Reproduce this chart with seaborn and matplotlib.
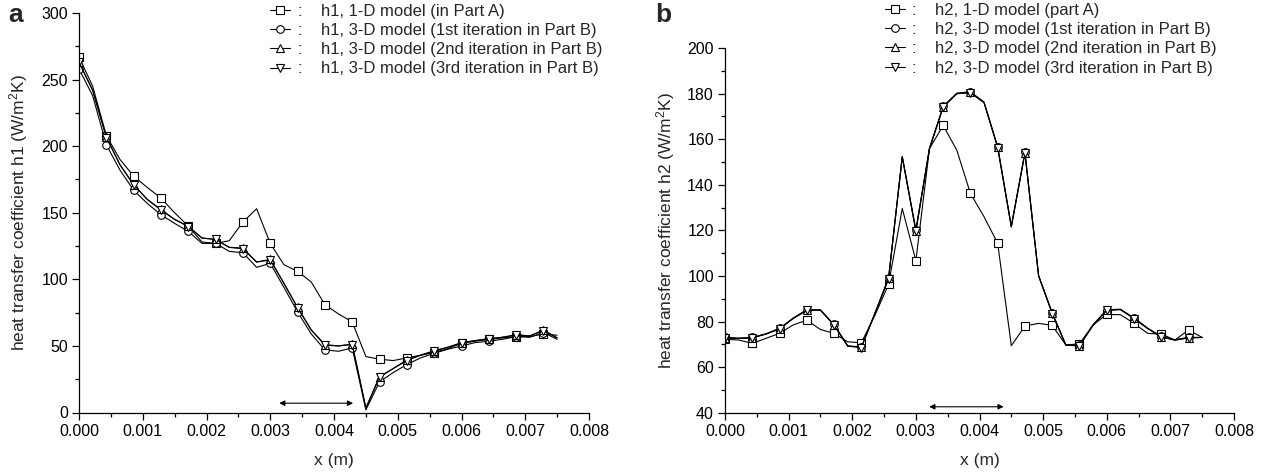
import numpy as np
import pandas as pd
import matplotlib
matplotlib.use('Agg')
import matplotlib.pyplot as plt
import seaborn as sns
from matplotlib.ticker import MultipleLocator, FormatStrFormatter

sns.set_style('ticks')
plt.rcParams['font.family'] = ['Liberation Sans', 'DejaVu Sans']
plt.rcParams['mathtext.fontset'] = 'custom'
plt.rcParams['mathtext.rm'] = 'Liberation Sans'
plt.rcParams['mathtext.it'] = 'Liberation Sans:italic'

# ---------------- data ----------------
x_m = [0.0, 0.000214, 0.000429, 0.000643, 0.000857, 0.001071, 0.001286, 0.0015,
       0.001714, 0.001929, 0.002143, 0.002357, 0.002571, 0.002786, 0.003, 0.003214,
       0.003429, 0.003643, 0.003857, 0.004071, 0.004286, 0.0045, 0.004714, 0.004929,
       0.005143, 0.005357, 0.005571, 0.005786, 0.006, 0.006214, 0.006429, 0.006643,
       0.006857, 0.007071, 0.007286, 0.0075]

h1_1d = [267, 245, 208, 190, 177.5, 169, 161, 150, 140, 128, 127, 129, 143, 153, 127, 111,
         106, 98, 81, 74, 68, 42, 40, 39, 41, 43, 45, 48, 52, 53.5, 55, 56, 57, 57, 59, 58]
h1_3d_it1 = [258, 238, 201, 182, 167, 157, 148.5, 142, 136, 127, 127, 121, 120, 109, 112, 94,
             75.5, 59, 47, 46, 48.5, 2, 23, 30, 36, 41, 44.5, 47.5, 50, 52.5, 53.5, 55, 57, 56.5, 60, 55]
h1_3d_it2 = [263, 242, 207, 186, 171, 160, 152.5, 145, 140, 131, 130, 124, 123.5, 113, 115, 97,
             79, 62, 51, 50, 51.5, 3.5, 27, 33, 39.5, 43, 46.5, 49, 52.5, 54, 55.5, 56.5, 58.5, 57.5, 62, 56]
h1_3d_it3 = [263, 242, 206.5, 186, 171, 160, 152, 145, 139.5, 131, 130, 124, 123, 113, 114.5, 97,
             78.5, 62, 50.5, 50, 51, 3, 26.5, 33, 39, 43, 46, 49, 52, 54, 55, 56.5, 58, 57.5, 61.5, 56]

h2_1d = [72.2, 71.9, 70.4, 72.6, 74.8, 78.5, 80.6, 76.5, 74.8, 71.1, 70.7, 82.8, 96.3, 129.6,
         106.7, 155.9, 166, 155.2, 136.2, 126, 114.3, 69.4, 78, 79.2, 78.3, 69.7, 70.2, 78.5,
         83.1, 83, 79.2, 74.8, 74.5, 71.9, 76.3, 73]
h2_3d_it1 = [73.0, 72.7, 73.0, 74.6, 77.0, 81.5, 85.2, 85.1, 78.7, 69.3, 68.9, 83.7, 99.2, 152.4,
             120.2, 156.0, 174.4, 180.2, 180.8, 176.3, 156.7, 121.8, 154.3, 100.2, 83.8, 69.8,
             69.6, 78.6, 85.2, 85.4, 81.6, 77.1, 73.5, 72.0, 73.1, 73]
h2_3d_it2 = [72.9, 72.6, 72.9, 74.5, 76.8, 81.4, 85, 85, 78.5, 69.2, 68.7, 83.6, 98.9, 152.3,
             119.8, 155.9, 174.2, 180, 180.5, 176.1, 156.4, 121.6, 154, 100, 83.6, 69.7, 69.4,
             78.5, 85, 85.3, 81.4, 77, 73.3, 71.9, 72.9, 73]
h2_3d_it3 = [72.9, 72.6, 72.8, 74.5, 76.7, 81.3, 84.9, 85, 78.4, 69.2, 68.6, 83.5, 98.8, 152.2,
             119.7, 155.8, 174.1, 179.9, 180.4, 176.0, 156.3, 121.5, 153.9, 100, 83.5, 69.6,
             69.3, 78.4, 84.9, 85.2, 81.3, 76.9, 73.2, 71.8, 72.8, 73]

labels_a = [':    h1, 1-D model (in Part A)',
            ':    h1, 3-D model (1st iteration in Part B)',
            ':    h1, 3-D model (2nd iteration in Part B)',
            ':    h1, 3-D model (3rd iteration in Part B)']
labels_b = [':    h2, 1-D model (part A)',
            ':    h2, 3-D model (1st iteration in Part B)',
            ':    h2, 3-D model (2nd iteration in Part B)',
            ':    h2, 3-D model (3rd iteration in Part B)']
markers = ['s', 'o', '^', 'v']

# annotation arrows (x-range markers)
arrow_a = ((0.00314, 7), (0.0043, 7))
arrow_b = ((0.00321, 42.6), (0.00438, 42.6))

W, H = 1263, 472
fig = plt.figure(figsize=(W / 100, H / 100), dpi=100)
axa = fig.add_axes([79 / W, 1 - 412.5 / H, 510 / W, 399.5 / H])
axb = fig.add_axes([725 / W, 1 - 412.7 / H, 509 / W, 364.7 / H])


def draw(ax, series, labels):
    for vals, mk, lab in zip(series, markers, labels):
        df = pd.DataFrame({'x': x_m, 'h': vals})
        sns.lineplot(data=df, x='x', y='h', ax=ax, color='black', lw=0.8,
                     marker=mk, markersize=5.5 if mk in 'so' else 6,
                     markerfacecolor='white', markeredgecolor='black',
                     markeredgewidth=0.8, markevery=2, label=lab)


draw(axa, [h1_1d, h1_3d_it1, h1_3d_it2, h1_3d_it3], labels_a)
draw(axb, [h2_1d, h2_3d_it1, h2_3d_it2, h2_3d_it3], labels_b)

for ax, ylim, ymaj, ymin, ylab, arr in [
        (axa, (0, 300), 50, 25, 'heat transfer coefficient h1 (W/m$^2$K)', arrow_a),
        (axb, (40, 200), 20, 10, 'heat transfer coefficient h2 (W/m$^2$K)', arrow_b)]:
    ax.set_xlim(0, 0.008)
    ax.set_ylim(*ylim)
    ax.xaxis.set_major_locator(MultipleLocator(0.001))
    ax.xaxis.set_minor_locator(MultipleLocator(0.0005))
    ax.xaxis.set_major_formatter(FormatStrFormatter('%.3f'))
    ax.yaxis.set_major_locator(MultipleLocator(ymaj))
    ax.yaxis.set_minor_locator(MultipleLocator(ymin))
    ax.tick_params(which='major', direction='out', length=5, width=0.9,
                   labelsize=11.5, colors='black', pad=3)
    ax.tick_params(which='minor', direction='out', length=3, width=0.9, colors='black')
    for s in ['top', 'right']:
        ax.spines[s].set_visible(False)
    for s in ['left', 'bottom']:
        ax.spines[s].set_linewidth(0.9)
        ax.spines[s].set_color('black')
    ax.set_xlabel('x (m)', fontsize=12.5)
    ax.set_ylabel(ylab, fontsize=12.5)
    ax.annotate('', xy=arr[1], xytext=arr[0],
                arrowprops=dict(arrowstyle='<|-|>', color='black', lw=0.8,
                                shrinkA=0, shrinkB=0, mutation_scale=8))

axa.yaxis.set_label_coords((30 - 79) / 510, 0.5)
axb.yaxis.set_label_coords((677 - 725) / 509, 0.5)
axa.xaxis.set_label_coords(0.5, -(460 - 412.5) / 399.5)
axb.xaxis.set_label_coords(0.5, -(460 - 412.7) / 364.7)
axa.xaxis.label.set_va('center')
axb.xaxis.label.set_va('center')

for ax, xpos, ytop in [(axa, 270, 4), (axb, 885, 3)]:
    h, l = ax.get_legend_handles_labels()
    ax.legend(h, l, loc='upper left', bbox_to_anchor=(xpos / W, 1 - ytop / H),
              bbox_transform=fig.transFigure, frameon=False, fontsize=12,
              handlelength=1.2, handletextpad=0.45, labelspacing=0.25,
              borderpad=0, borderaxespad=0, numpoints=1)

fig.text(8 / W, 1 - 22 / H, 'a', fontsize=19, fontweight='bold', va='baseline')
fig.text(655 / W, 1 - 22 / H, 'b', fontsize=19, fontweight='bold', va='baseline')

fig.savefig('out.png', dpi=100)
